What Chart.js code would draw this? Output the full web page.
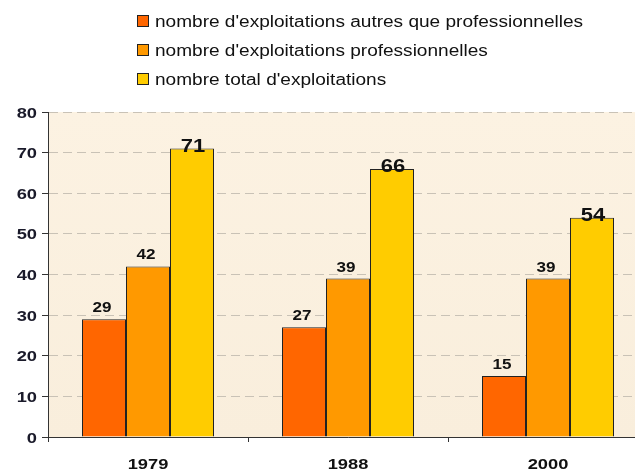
<!DOCTYPE html>
<html>
<head>
<meta charset="utf-8">
<script src="https://cdn.jsdelivr.net/npm/chart.js@4.4.0/dist/chart.umd.min.js"></script>
<style>
  html, body { margin: 0; padding: 0; background: #fff; overflow: hidden; }
  #wrap { width: 635px; height: 473px; overflow: hidden; }
  #wrap div { width: 660px; height: 485px; }
</style>
</head>
<body>
<div id="wrap"><div><canvas id="myChart" width="660" height="485"></canvas></div></div>
<script>
var years = ['1979', '1988', '2000'];
var autres = [29, 27, 15];
var pros = [42, 39, 39];
var total = [71, 66, 54];
var series_names = [
    "nombre d'exploitations autres que professionnelles",
    "nombre d'exploitations professionnelles",
    "nombre total d'exploitations"
];
var y_ticks = [0, 10, 20, 30, 40, 50, 60, 70, 80];

var colors = ['#ff6600', '#ff9900', '#ffcc00'];
var font_family = '"Liberation Sans", Arial, sans-serif';

// text drawn a bit wider than the font's normal width
function wideText(c, txt, x, y, font, align, sx) {
    c.save();
    c.font = font;
    c.textAlign = align;
    c.textBaseline = 'alphabetic';
    c.translate(x, y);
    c.scale(sx || 1.22, 1);
    c.fillText(txt, 0, 0);
    c.restore();
}

// beige plot background
var plotBg = {
    id: 'plotBg',
    beforeDraw: function (chart) {
        var a = chart.chartArea;
        var c = chart.ctx;
        var g = c.createLinearGradient(0, a.top, 0, a.bottom);
        g.addColorStop(0, '#fcf2e2');
        g.addColorStop(1, '#f9eedc');
        c.save();
        c.fillStyle = g;
        c.fillRect(a.left, a.top, a.right - a.left, a.bottom - a.top);
        c.restore();
    }
};

// vertical legend at the top, left aligned
var topLegend = {
    id: 'topLegend',
    afterDraw: function (chart) {
        var c = chart.ctx;
        c.save();
        for (var i = 0; i < series_names.length; i++) {
            var y = 21 + i * 29;
            c.fillStyle = colors[i];
            c.fillRect(137, y - 6, 12, 12);
            c.strokeStyle = '#222';
            c.lineWidth = 1;
            c.strokeRect(137.5, y - 5.5, 11, 11);
            c.fillStyle = '#111';
            wideText(c, series_names[i], 155, y + 6, '16px ' + font_family, 'left', 1.19);
        }
        c.restore();
    }
};

// axis labels, drawn from the chart scales
var axisText = {
    id: 'axisText',
    afterDraw: function (chart) {
        var c = chart.ctx;
        var ys = chart.scales.y;
        var xs = chart.scales.x;
        c.save();
        c.fillStyle = '#1a1a2a';
        y_ticks.forEach(function (v) {
            wideText(c, String(v), 37, ys.getPixelForValue(v) + 5.5, 'bold 15px ' + font_family, 'right');
        });
        c.fillStyle = '#111';
        years.forEach(function (yr, j) {
            wideText(c, yr, xs.getPixelForValue(j), 469, 'bold 15px ' + font_family, 'center');
        });
        c.restore();
    }
};

// value labels above each bar
var barValues = {
    id: 'barValues',
    afterDatasetsDraw: function (chart) {
        var c = chart.ctx;
        c.save();
        c.fillStyle = '#111';
        chart.data.datasets.forEach(function (ds, i) {
            var meta = chart.getDatasetMeta(i);
            meta.data.forEach(function (bar, j) {
                if (i == 2) {
                    wideText(c, ds.data[j], bar.x + 1, bar.y + 3, 'bold 18px ' + font_family, 'center');
                } else {
                    wideText(c, ds.data[j], bar.x - 2, bar.y - 7, 'bold 14px ' + font_family, 'center');
                }
            });
        });
        c.restore();
    }
};

var ctx = document.getElementById('myChart').getContext('2d');
var myChart = new Chart(ctx, {
    type: 'bar',
    data: {
        labels: years,
        datasets: [
            { label: series_names[0], data: autres, backgroundColor: colors[0] },
            { label: series_names[1], data: pros, backgroundColor: colors[1] },
            { label: series_names[2], data: total, backgroundColor: colors[2] }
        ].map(function (d) {
            d.borderColor = '#222';
            d.borderWidth = 1;
            d.borderSkipped = 'bottom';
            d.categoryPercentage = 0.66;
            d.barPercentage = 1.0;
            return d;
        })
    },
    options: {
        responsive: false,
        animation: false,
        layout: { padding: { top: 112, left: 0, right: 12, bottom: 0 } },
        plugins: {
            legend: { display: false },
            tooltip: { enabled: false }
        },
        scales: {
            x: {
                afterFit: function (s) { s.height = 48; },
                grid: {
                    offset: true,
                    drawOnChartArea: false,
                    tickLength: 5,
                    color: '#333'
                },
                border: { color: '#333', width: 1 },
                ticks: { display: false }
            },
            y: {
                min: 0,
                max: 80,
                afterBuildTicks: function (s) {
                    s.ticks = y_ticks.map(function (v) { return { value: v }; });
                },
                afterFit: function (s) { s.width = 48; },
                grid: {
                    color: '#c9c2b6',
                    tickLength: 6,
                    tickColor: '#333',
                    tickBorderDash: []
                },
                border: { color: '#333', width: 1, dash: [9, 5] },
                ticks: { display: false }
            }
        }
    },
    plugins: [plotBg, topLegend, axisText, barValues]
});
</script>
</body>
</html>
